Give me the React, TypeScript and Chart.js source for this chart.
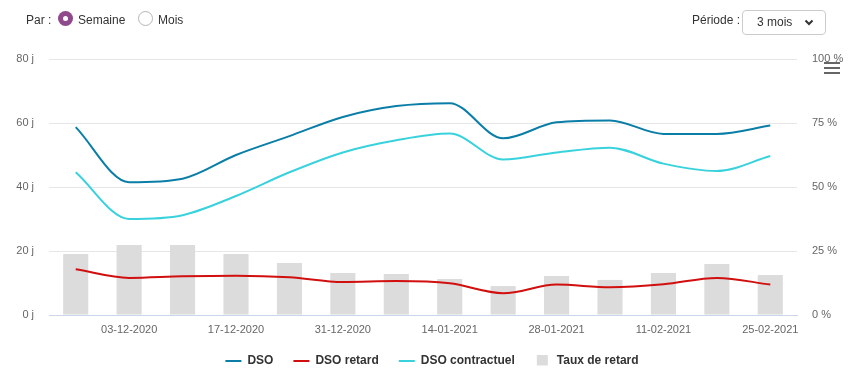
import React, { useEffect, useRef } from "react";
import { Chart, registerables } from "chart.js";

Chart.register(...registerables);

const dates = [
  "26-11-2020", "03-12-2020", "10-12-2020", "17-12-2020", "24-12-2020", "31-12-2020", "07-01-2021",
  "14-01-2021", "21-01-2021", "28-01-2021", "04-02-2021", "11-02-2021", "18-02-2021", "25-02-2021",
];
const dso = [58.7, 41.5, 42.6, 50.0, 55.9, 61.9, 65.3, 66.2, 55.2, 60.2, 60.8, 56.6, 56.6, 59.2];
const dsoRetard = [14.3, 11.6, 12.1, 12.3, 11.8, 10.3, 10.6, 9.9, 6.8, 9.5, 8.7, 9.6, 11.6, 9.5];
const dsoContractuel = [44.6, 30.0, 31.2, 37.2, 44.6, 50.8, 54.6, 56.7, 48.6, 50.8, 52.3, 47.3, 45.0, 49.7];
const tauxRetard = [23.8, 27.3, 27.3, 23.8, 20.3, 16.4, 16.0, 14.1, 11.3, 15.2, 13.7, 16.4, 19.9, 15.6];
const leftTicks = [0, 20, 40, 60, 80];
const rightTicks = [0, 25, 50, 75, 100];

const FONT = "'Liberation Sans', Arial, Helvetica, sans-serif";
const C_DSO = "#0b7ea8";
const C_RET = "#d10f0f";
const C_CON = "#38d2dd";
const C_BAR = "#dcdcdc";

function squareIcon(color: string) {
  const c = document.createElement("canvas");
  c.width = 16;
  c.height = 13;
  const g = c.getContext("2d")!;
  g.fillStyle = color;
  g.fillRect(2, 0, 11, 11);
  return c;
}

export default function App() {
  const ref = useRef<HTMLCanvasElement | null>(null);

  useEffect(() => {
    if (!ref.current) return;
    const sq = squareIcon(C_BAR);
    const lineDs = (label: string, data: number[], color: string) => ({
      type: "line" as const,
      label,
      data,
      borderColor: color,
      backgroundColor: color,
      borderWidth: 2,
      pointRadius: 0,
      cubicInterpolationMode: "monotone" as const,
      yAxisID: "y",
      order: 1,
    });
    const chart = new Chart(ref.current, {
      type: "bar",
      data: {
        labels: dates,
        datasets: [
          lineDs("DSO", dso, C_DSO),
          lineDs("DSO retard", dsoRetard, C_RET),
          lineDs("DSO contractuel", dsoContractuel, C_CON),
          {
            type: "bar",
            label: "Taux de retard",
            data: tauxRetard,
            backgroundColor: C_BAR,
            yAxisID: "y1",
            barPercentage: 0.47,
            categoryPercentage: 1,
            order: 2,
          },
        ],
      },
      options: {
        animation: false,
        responsive: true,
        maintainAspectRatio: false,
        layout: { padding: { top: 59, left: 0, right: 0, bottom: 5 } },
        plugins: {
          tooltip: { enabled: false },
          legend: {
            position: "bottom",
            labels: {
              usePointStyle: true,
              pointStyleWidth: 16,
              padding: 20,
              color: "#333333",
              font: { family: FONT, size: 12, weight: "bold" },
              generateLabels: (ch: any) =>
                ch.data.datasets.map((ds: any, i: number) => ({
                  text: ds.label,
                  datasetIndex: i,
                  fillStyle: ds.type === "bar" ? C_BAR : ds.borderColor,
                  strokeStyle: ds.type === "bar" ? C_BAR : ds.borderColor,
                  lineWidth: 2,
                  pointStyle: ds.type === "bar" ? sq : "line",
                  fontColor: "#333333",
                  hidden: false,
                })),
            },
          },
        },
        scales: {
          x: {
            grid: { display: false, drawTicks: false },
            border: { color: "#ccd6eb", width: 1 },
            ticks: {
              autoSkip: false,
              maxRotation: 0,
              minRotation: 0,
              padding: 8,
              color: "#666666",
              font: { family: FONT, size: 11 },
              callback: (_v: any, i: number) => (i % 2 === 1 ? dates[i] : ""),
            },
            afterFit: (s: any) => {
              s.height = 20;
            },
          },
          y: {
            position: "left",
            min: 0,
            max: 80,
            afterBuildTicks: (s: any) => {
              s.ticks = leftTicks.map((v) => ({ value: v }));
            },
            grid: { color: "#e6e6e6", drawTicks: false },
            border: { display: false },
            ticks: {
              padding: 15,
              color: "#666666",
              font: { family: FONT, size: 11 },
              callback: (v: any) => v + " j",
            },
            afterFit: (s: any) => {
              s.width = 49;
            },
          },
          y1: {
            position: "right",
            min: 0,
            max: 100,
            afterBuildTicks: (s: any) => {
              s.ticks = rightTicks.map((v) => ({ value: v }));
            },
            grid: { drawOnChartArea: false, drawTicks: false },
            border: { display: false },
            ticks: {
              padding: 15,
              color: "#666666",
              font: { family: FONT, size: 11 },
              callback: (v: any) => v + " %",
            },
            afterFit: (s: any) => {
              s.width = 67;
            },
          },
        },
      },
    } as any);
    return () => chart.destroy();
  }, []);

  const txt: React.CSSProperties = {
    position: "absolute",
    fontFamily: FONT,
    fontSize: 12,
    color: "#333333",
    lineHeight: "14px",
    whiteSpace: "nowrap",
  };

  return (
    <div style={{ position: "absolute", left: 0, top: 0, width: 864, height: 382, background: "#ffffff", overflow: "hidden" }}>
      <div style={{ position: "absolute", left: 0, top: 0, width: 864, height: 382 }}>
        <canvas ref={ref} />
      </div>
      <span style={{ ...txt, left: 26, top: 13 }}>Par :</span>
      <div
        style={{
          position: "absolute", left: 58, top: 11, width: 15, height: 15, borderRadius: "50%",
          background: "#8e4a8b", display: "flex", alignItems: "center", justifyContent: "center",
        }}
      >
        <div style={{ width: 5, height: 5, borderRadius: "50%", background: "#ffffff" }} />
      </div>
      <span style={{ ...txt, left: 78, top: 13 }}>Semaine</span>
      <div
        style={{
          position: "absolute", left: 138, top: 11, width: 13, height: 13, borderRadius: "50%",
          border: "1px solid #b5b5b5", background: "#fff",
        }}
      />
      <span style={{ ...txt, left: 158, top: 13 }}>Mois</span>
      <span style={{ ...txt, left: 692, top: 13 }}>Période :</span>
      <div
        style={{
          position: "absolute", left: 742, top: 10, width: 82, height: 23, border: "1px solid #cccccc",
          borderRadius: 4, background: "#fff",
        }}
      >
        <span style={{ ...txt, left: 14, top: 4 }}>3 mois</span>
        <svg style={{ position: "absolute", left: 61, top: 8 }} width="10" height="8" viewBox="0 0 10 8">
          <polyline points="1.5,1.5 5,5 8.5,1.5" fill="none" stroke="#333" strokeWidth="2" />
        </svg>
      </div>
      {[62, 67, 72].map((y) => (
        <div key={y} style={{ position: "absolute", left: 824, top: y, width: 16, height: 2, background: "#666666" }} />
      ))}
    </div>
  );
}
